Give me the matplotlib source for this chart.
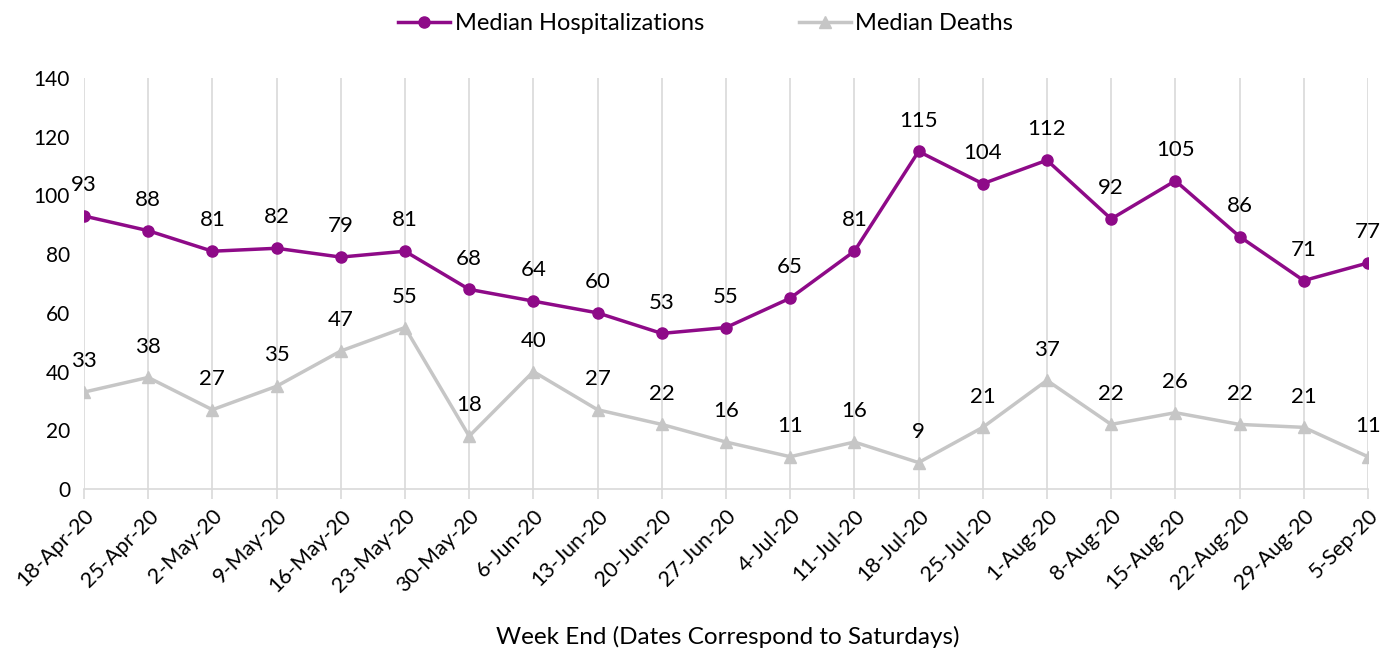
import matplotlib.pyplot as plt

weeks = ['18-Apr-20', '25-Apr-20', '2-May-20', '9-May-20', '16-May-20', '23-May-20',
         '30-May-20', '6-Jun-20', '13-Jun-20', '20-Jun-20', '27-Jun-20', '4-Jul-20',
         '11-Jul-20', '18-Jul-20', '25-Jul-20', '1-Aug-20', '8-Aug-20', '15-Aug-20',
         '22-Aug-20', '29-Aug-20', '5-Sep-20']
hospitalizations = [93, 88, 81, 82, 79, 81, 68, 64, 60, 53, 55, 65, 81, 115, 104, 112, 92, 105, 86, 71, 77]
deaths = [33, 38, 27, 35, 47, 55, 18, 40, 27, 22, 16, 11, 16, 9, 21, 37, 22, 26, 22, 21, 11]

plt.rcParams['font.family'] = ['Lato', 'DejaVu Sans']

purple = '#8E0A88'
grey = '#C6C6C6'

fig = plt.figure(figsize=(13.95, 6.54), dpi=100)
ax = fig.add_axes([0.0602, 0.2523, 0.9204, 0.6284])

x = range(len(weeks))
ax.plot(x, hospitalizations, color=purple, lw=2.5, marker='o', ms=8, label='Median Hospitalizations', zorder=3)
ax.plot(x, deaths, color=grey, lw=2.5, marker='^', ms=8, label='Median Deaths', zorder=3)

for i in x:
    ax.annotate(str(hospitalizations[i]), (i, hospitalizations[i]), xytext=(0, 15),
                textcoords='offset points', ha='center', va='bottom', fontsize=16)
    ax.annotate(str(deaths[i]), (i, deaths[i]), xytext=(0, 15),
                textcoords='offset points', ha='center', va='bottom', fontsize=16)

ax.set_xlim(0, len(weeks) - 1)
ax.set_ylim(0, 140)
ax.set_yticks(range(0, 141, 20))
ax.set_xticks(list(x))
ax.set_xticklabels(weeks, rotation=45, ha='right', rotation_mode='anchor', fontsize=15.5)
ax.tick_params(axis='y', labelsize=15, length=0, pad=10)
ax.tick_params(axis='x', length=7, color='#D9D9D9', width=1.2, pad=5)
ax.grid(axis='x', color='#D9D9D9', lw=1.2)
ax.set_axisbelow(True)
for s in ['top', 'right', 'left']:
    ax.spines[s].set_visible(False)
ax.spines['bottom'].set_color('#D9D9D9')
ax.spines['bottom'].set_linewidth(1.2)

fig.text(0.522, 0.026, 'Week End (Dates Correspond to Saturdays)', ha='center', va='center', fontsize=17.5)
fig.legend(loc='upper center', bbox_to_anchor=(0.506, 1.012), ncol=2, frameon=False, fontsize=17,
           handlelength=2.2, handletextpad=0.2, columnspacing=4)

fig.savefig('out.png', dpi=100)
